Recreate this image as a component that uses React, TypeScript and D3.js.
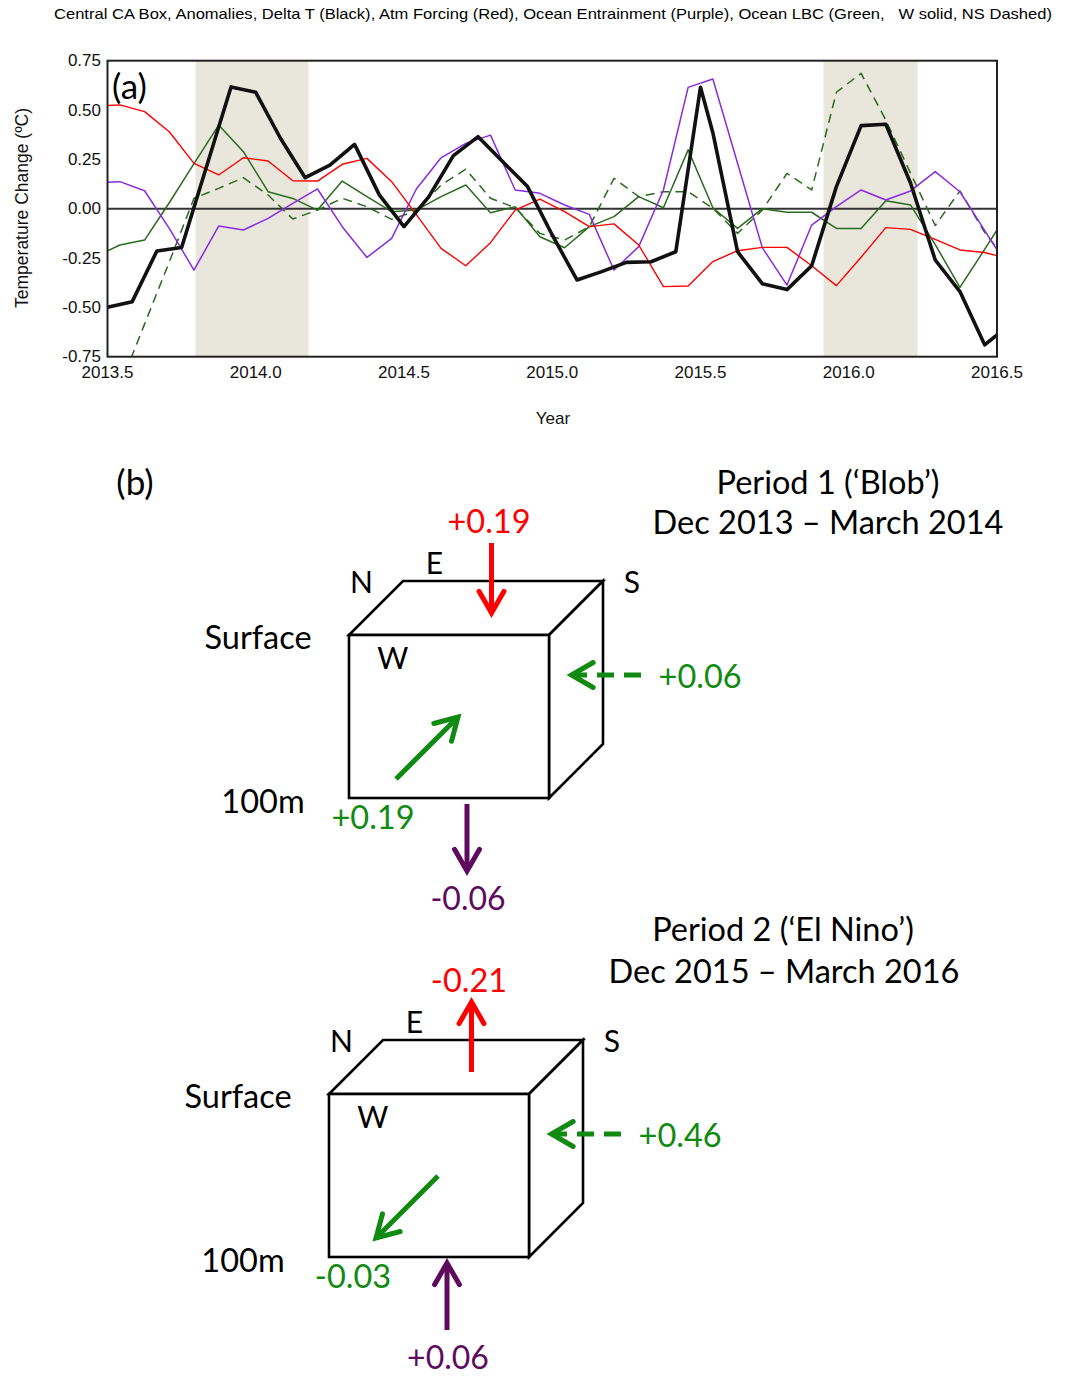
import React from "react";
import * as d3 from "d3";

const W = 1069;
const H = 1377;

// Monthly sample times (decimal years)
const mid = (j: number) => 2013.5 + (j + 0.5) / 12;
const start = (k: number) => 2013.5 + k / 12;

const xTicks = [2013.5, 2014.0, 2014.5, 2015.0, 2015.5, 2016.0, 2016.5];
const yTicks = [-0.75, -0.5, -0.25, 0, 0.25, 0.5, 0.75];

// Shaded event periods (Blob, El Nino)
const shadedPeriods: [number, number][] = [
  [2013.797, 2014.178],
  [2015.915, 2016.232],
];

const midTimes = [2013.5, ...d3.range(36).map(mid), 2016.5];
const nsTimes = [...d3.range(36).map(mid), 2016.5];
const deltaTTimes = [...d3.range(25).map(start), ...d3.range(24, 36).map(mid), 2016.5];

// Delta T (black)
const deltaT = [
  -0.5, -0.471, -0.214, -0.197, 0.21, 0.617, 0.59, 0.357, 0.157, 0.221, 0.326, 0.07,
  -0.091, 0.06, 0.269, 0.365, 0.238, 0.112, -0.133, -0.361, -0.319, -0.272, -0.269, -0.218,
  0.615,
  0.385, -0.218, -0.38, -0.41, -0.289, 0.112, 0.421, 0.428, 0.13, -0.26, -0.42, -0.69,
  -0.64,
];

// Atmospheric forcing (red)
const atmForcing = [
  0.523,
  0.526, 0.492, 0.39, 0.23, 0.171, 0.258, 0.242, 0.142, 0.14, 0.225, 0.255, 0.137,
  -0.03, -0.201, -0.289, -0.172, -0.007, 0.049, -0.015, -0.091, -0.077, -0.184, -0.395, -0.392,
  -0.268, -0.213, -0.196, -0.196, -0.289, -0.39, -0.246, -0.096, -0.105, -0.155, -0.209, -0.222,
  -0.238,
];

// Ocean entrainment (purple)
const entrainment = [
  0.134,
  0.137, 0.091, -0.1, -0.311, -0.088, -0.108, -0.049, 0.027, 0.1, -0.091, -0.247, -0.15,
  0.1, 0.258, 0.331, 0.373, 0.095, 0.078, 0.019, -0.029, -0.311, -0.192, 0.095, 0.615,
  0.657, 0.23, -0.197, -0.387, -0.083, 0.01, 0.095, 0.044, 0.09, 0.188, 0.086, -0.11,
  -0.209,
];

// Ocean lateral boundary, west (solid green)
const lbcWest = [
  -0.214,
  -0.184, -0.159, 0.03, 0.228, 0.424, 0.289, 0.086, 0.052, -0.007, 0.14, 0.061, -0.015,
  -0.007, 0.061, 0.12, -0.02, 0.01, -0.142, -0.198, -0.091, -0.04, 0.061, 0.005, 0.298,
  0.005, -0.1, 0.0, -0.018, -0.018, -0.1, -0.1, 0.04, 0.019, -0.182, -0.399, -0.206,
  -0.108,
];

// Ocean lateral boundary, north + south (dashed green)
const lbcNS = [
  -0.9, -0.585, -0.27, 0.053, 0.103, 0.157, 0.069, -0.052, -0.007, 0.053, 0.01, -0.054,
  -0.01, 0.12, 0.2, 0.053, 0.005, -0.125, -0.159, -0.091, 0.154, 0.061, 0.086, 0.086,
  0.002, -0.125, -0.007, 0.179, 0.095, 0.59, 0.686, 0.449, 0.18, -0.085, 0.09, -0.12,
  -0.2,
];

// Panel (b): heat budget terms for each period
const periodTitles = ["Period 1 (\u2018Blob\u2019)", "Period 2 (\u2018El Nino\u2019)"];
const periodDates = ["Dec 2013 \u2013 March 2014", "Dec 2015 \u2013 March 2016"];
const atmFlux = [0.19, -0.21];
const entrainFlux = [-0.06, 0.06];
const westFlux = [0.19, -0.03];
const nsFlux = [0.06, 0.46];

const RED = "#ff0000";
const PURPLE_LINE = "#8a2be2";
const GREEN_LINE = "#2a6a1e";
const GREEN = "#108a10";
const PURPLE = "#5e0b5e";

const plot = { left: 107.5, right: 997, top: 60.7, bottom: 356.7 };
const sans = "'Liberation Sans', Arial, sans-serif";
const hum = "Lato, 'Open Sans', sans-serif";

const fmtFlux = (v: number) => (v >= 0 ? "+" : "-") + Math.abs(v).toFixed(2);

function Arrow({ x1, y1, x2, y2, color, dash }: { x1: number; y1: number; x2: number; y2: number; color: string; dash?: string }) {
  const ang = Math.atan2(y2 - y1, x2 - x1);
  const len = 25;
  const spread = (30 * Math.PI) / 180;
  const a1x = x2 - len * Math.cos(ang - spread);
  const a1y = y2 - len * Math.sin(ang - spread);
  const a2x = x2 - len * Math.cos(ang + spread);
  const a2y = y2 - len * Math.sin(ang + spread);
  return (
    <g stroke={color} fill="none" strokeWidth={5}>
      <line x1={x1} y1={y1} x2={x2} y2={y2} strokeDasharray={dash} />
      <path d={`M${a1x},${a1y}L${x2},${y2}L${a2x},${a2y}`} strokeLinejoin="miter" strokeLinecap="round" />
    </g>
  );
}

function BudgetBox({ fx, fy, idx }: { fx: number; fy: number; idx: number }) {
  const bw = 200, bh = 163, d = 54;
  const atm = atmFlux[idx];
  const ent = entrainFlux[idx];
  const wst = westFlux[idx];
  const ns = nsFlux[idx];
  // positive flux points into the box
  const redX = fx + 142.5;
  const redTop = fy - 92, redBot = fy - 22;
  const purX = fx + 118;
  const purTop = fy + 169, purBot = fy + 236;
  const wLow = [fx + 47, fy + 144];
  const wHigh = [fx + 109, fy + 82];
  const nsY = fy + 40;
  const nsOut = fx + 292, nsIn = fx + 222.5;
  const letter = { fontFamily: hum, fontSize: 30, fill: "#000", textAnchor: "middle" as const, dominantBaseline: "central" as const };
  const label = { fontFamily: hum, fontSize: 32.5, dominantBaseline: "central" as const };
  return (
    <g>
      <g stroke="#000" strokeWidth={2.6} fill="#fff" strokeLinejoin="miter">
        <polygon points={`${fx},${fy} ${fx + d},${fy - d} ${fx + bw + d},${fy - d} ${fx + bw},${fy}`} />
        <polygon points={`${fx + bw},${fy} ${fx + bw + d},${fy - d} ${fx + bw + d},${fy + bh - d} ${fx + bw},${fy + bh}`} />
        <rect x={fx} y={fy} width={bw} height={bh} />
      </g>
      <text x={fx + 12.4} y={fy - 54} {...letter}>N</text>
      <text x={fx + 85.3} y={fy - 73} {...letter}>E</text>
      <text x={fx + 282.8} y={fy - 54} {...letter}>S</text>
      <text x={fx + 43.9} y={fy + 21.5} {...letter}>W</text>
      <text x={fx - 91} y={fy + 1.5} textAnchor="middle" {...label} fill="#000">Surface</text>
      <text x={fx - 86} y={fy + 165} textAnchor="middle" {...label} fill="#000">100m</text>

      <Arrow x1={redX} y1={atm > 0 ? redTop : redBot} x2={redX} y2={atm > 0 ? redBot : redTop} color={RED} />
      <text x={fx + 140} y={fy - 115} textAnchor="middle" {...label} fill={RED}>{fmtFlux(atm)}</text>

      <Arrow x1={purX} y1={ent > 0 ? purBot : purTop} x2={purX} y2={ent > 0 ? purTop : purBot} color={PURPLE} />
      <text x={fx + 119} y={fy + 262} textAnchor="middle" {...label} fontSize={32} fill={PURPLE}>{fmtFlux(ent)}</text>

      <Arrow
        x1={wst > 0 ? wLow[0] : wHigh[0]} y1={wst > 0 ? wLow[1] : wHigh[1]}
        x2={wst > 0 ? wHigh[0] : wLow[0]} y2={wst > 0 ? wHigh[1] : wLow[1]}
        color={GREEN}
      />
      <text x={fx + 24} y={fy + 181} textAnchor="middle" {...label} fill={GREEN}>{fmtFlux(wst)}</text>

      <Arrow x1={ns > 0 ? nsOut : nsIn} y1={nsY} x2={ns > 0 ? nsIn : nsOut} y2={nsY} color={GREEN} dash="17 10" />
      <text x={fx + 309.6} y={nsY} textAnchor="start" {...label} fill={GREEN}>{fmtFlux(ns)}</text>
    </g>
  );
}

export default function App() {
  const x = d3.scaleLinear().domain([2013.5, 2016.5]).range([plot.left, plot.right]);
  const y = d3.scaleLinear().domain([-0.75, 0.75]).range([plot.bottom, plot.top]);

  const mkLine = (times: number[]) =>
    d3.line<number>().x((_, i) => x(times[i])).y((d) => y(d));

  const series = [
    { vals: lbcNS, times: nsTimes, color: GREEN_LINE, width: 1.5, dash: "9 6" },
    { vals: lbcWest, times: midTimes, color: GREEN_LINE, width: 1.5 },
    { vals: entrainment, times: midTimes, color: PURPLE_LINE, width: 1.5 },
    { vals: atmForcing, times: midTimes, color: RED, width: 1.4 },
    { vals: deltaT, times: deltaTTimes, color: "#111", width: 3.6 },
  ];

  const titleStyle = { fontFamily: hum, fontSize: 32.5, fill: "#000", textAnchor: "middle" as const, dominantBaseline: "central" as const };

  return (
    <div style={{ position: "absolute", left: 0, top: 0 }}>
      <svg width={W} height={H} viewBox={`0 0 ${W} ${H}`} style={{ display: "block", background: "#fff" }}>
        <defs>
          <clipPath id="plotClip">
            <rect x={plot.left} y={plot.top} width={plot.right - plot.left} height={plot.bottom - plot.top} />
          </clipPath>
        </defs>

        {/* panel (a) */}
        <text x={54} y={19} fontFamily={sans} fontSize={15} textLength={998} lengthAdjust="spacingAndGlyphs" fill="#000" style={{ whiteSpace: "pre" }}>
          {"Central CA Box, Anomalies, Delta T (Black), Atm Forcing (Red), Ocean Entrainment (Purple), Ocean LBC (Green,   W solid, NS Dashed)"}
        </text>

        {shadedPeriods.map(([a, b], i) => (
          <rect key={i} x={x(a)} y={plot.top} width={x(b) - x(a)} height={plot.bottom - plot.top} fill="#e9e6dc" />
        ))}

        <line x1={plot.left} x2={plot.right} y1={y(0)} y2={y(0)} stroke="#333" strokeWidth={2} />

        <g clipPath="url(#plotClip)">
          {series.map((s, i) => (
            <path
              key={i}
              d={mkLine(s.times)(s.vals) || ""}
              fill="none"
              stroke={s.color}
              strokeWidth={s.width}
              strokeDasharray={s.dash}
              strokeLinejoin="round"
            />
          ))}
        </g>

        <rect x={plot.left} y={plot.top} width={plot.right - plot.left} height={plot.bottom - plot.top} fill="none" stroke="#222" strokeWidth={2} />

        {yTicks.map((t) => (
          <text key={t} x={101} y={y(t)} textAnchor="end" dominantBaseline="central" fontFamily={sans} fontSize={17} fill="#111">
            {t.toFixed(2)}
          </text>
        ))}
        {xTicks.map((t) => (
          <text key={t} x={x(t)} y={372} textAnchor="middle" dominantBaseline="central" fontFamily={sans} fontSize={17} fill="#111">
            {t.toFixed(1)}
          </text>
        ))}
        <text x={553} y={418} textAnchor="middle" dominantBaseline="central" fontFamily={sans} fontSize={17} fill="#111">Year</text>
        <text transform={`translate(22,208) rotate(-90)`} textAnchor="middle" dominantBaseline="central" fontFamily={sans} fontSize={17.5} fill="#111">
          Temperature Change (ºC)
        </text>
        <text x={112} y={85} dominantBaseline="central" fontFamily={hum} fontSize={35} fill="#000">(a)</text>

        {/* panel (b) */}
        <text x={135} y={481} textAnchor="middle" dominantBaseline="central" fontFamily={hum} fontSize={35} fill="#000">(b)</text>

        <text x={828} y={481} {...titleStyle}>{periodTitles[0]}</text>
        <text x={828} y={521} {...titleStyle}>{periodDates[0]}</text>
        <BudgetBox fx={349} fy={635} idx={0} />

        <text x={783} y={928} {...titleStyle}>{periodTitles[1]}</text>
        <text x={784} y={970} {...titleStyle}>{periodDates[1]}</text>
        <BudgetBox fx={329} fy={1094} idx={1} />
      </svg>
    </div>
  );
}
